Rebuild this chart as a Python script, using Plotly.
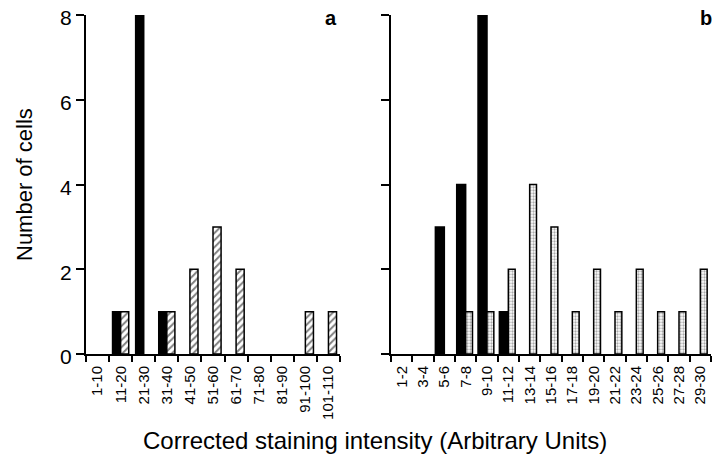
import plotly.graph_objects as go

cats_a = ["1-10", "11-20", "21-30", "31-40", "41-50", "51-60", "61-70",
          "71-80", "81-90", "91-100", "101-110"]
black_a = [0, 1, 8, 1, 0, 0, 0, 0, 0, 0, 0]
hatch_a = [0, 1, 0, 1, 2, 3, 2, 0, 0, 1, 1]

cats_b = ["1-2", "3-4", "5-6", "7-8", "9-10", "11-12", "13-14", "15-16",
          "17-18", "19-20", "21-22", "23-24", "25-26", "27-28", "29-30"]
black_b = [0, 0, 3, 4, 8, 1, 0, 0, 0, 0, 0, 0, 0, 0, 0]
dot_b = [0, 0, 0, 1, 1, 2, 4, 3, 1, 2, 1, 2, 1, 1, 2]

y_ticks = [0, 2, 4, 6, 8]

W, H = 720, 470
OFF = 8  # page body margin
FONT = "Liberation Sans, Arial, Helvetica, sans-serif"


def px(p):
    return (p - OFF) / W


def py(p):
    return 1 - (p - OFF) / H


def nz(v):
    return [x if x else None for x in v]


fig = go.Figure()
line = dict(color="black", width=1.5)
fig.add_bar(x=cats_a, y=nz(black_a), xaxis="x", yaxis="y", width=0.35, offset=-0.35,
            marker=dict(color="black", line=line), showlegend=False)
fig.add_bar(x=cats_a, y=nz(hatch_a), xaxis="x", yaxis="y", width=0.35, offset=0,
            marker=dict(color="white", line=line,
                        pattern=dict(shape="/", fgcolor="black", bgcolor="white",
                                     size=5, solidity=0.4)),
            showlegend=False)
fig.add_bar(x=cats_b, y=nz(black_b), xaxis="x2", yaxis="y2", width=0.42, offset=-0.42,
            marker=dict(color="black", line=line), showlegend=False)
fig.add_bar(x=cats_b, y=nz(dot_b), xaxis="x2", yaxis="y2", width=0.32, offset=0,
            marker=dict(color="white", line=line,
                        pattern=dict(shape=".", fgcolor="#555", bgcolor="white",
                                     size=3, solidity=0.45)),
            showlegend=False)

ydom = [py(354), py(15)]
xcommon = dict(type="category", tickson="boundaries", ticks="outside", ticklen=6,
               tickwidth=2, tickcolor="black", showline=True, linewidth=2,
               linecolor="black", tickangle=-90, showgrid=False, zeroline=False,
               automargin=False, ticklabelstandoff=4,
               tickfont=dict(size=15, color="black", family=FONT))
ycommon = dict(range=[0, 8], tickvals=y_ticks, ticks="outside", ticklen=8,
               tickwidth=2, tickcolor="black", showline=True, linewidth=2,
               linecolor="black", showgrid=False, zeroline=False, domain=ydom,
               automargin=False, ticklabeloverflow="allow", ticklabelshift=3,
               tickfont=dict(size=21, color="black", family=FONT))

ann = dict(xref="paper", yref="paper", showarrow=False, xanchor="center",
           yanchor="middle", font=dict(size=20, family=FONT, color="black"))

fig.update_layout(
    width=W, height=H, margin=dict(l=0, r=0, t=0, b=0),
    plot_bgcolor="white", paper_bgcolor="white", barmode="overlay",
    font=dict(family=FONT, color="black"),
    xaxis=dict(xcommon, domain=[px(86), px(340)], range=[-0.5, 10.5], anchor="y"),
    xaxis2=dict(xcommon, domain=[px(391), px(711)], range=[-0.5, 14.5], anchor="y2"),
    yaxis=dict(ycommon, anchor="x"),
    yaxis2=dict(ycommon, anchor="x2", showticklabels=False),
    annotations=[
        dict(ann, text="Number of cells", x=px(25), y=py(185), textangle=-90,
             font=dict(size=22, family=FONT, color="black")),
        dict(ann, text="Corrected staining intensity (Arbitrary Units)",
             x=px(375), y=py(440), font=dict(size=24, family=FONT, color="black")),
        dict(ann, text="<b>a</b>", x=px(331), y=py(18), height=16, valign="middle"),
        dict(ann, text="<b>b</b>", x=px(706), y=py(18), height=16, valign="middle"),
    ],
)

fig.write_html("out.html")
